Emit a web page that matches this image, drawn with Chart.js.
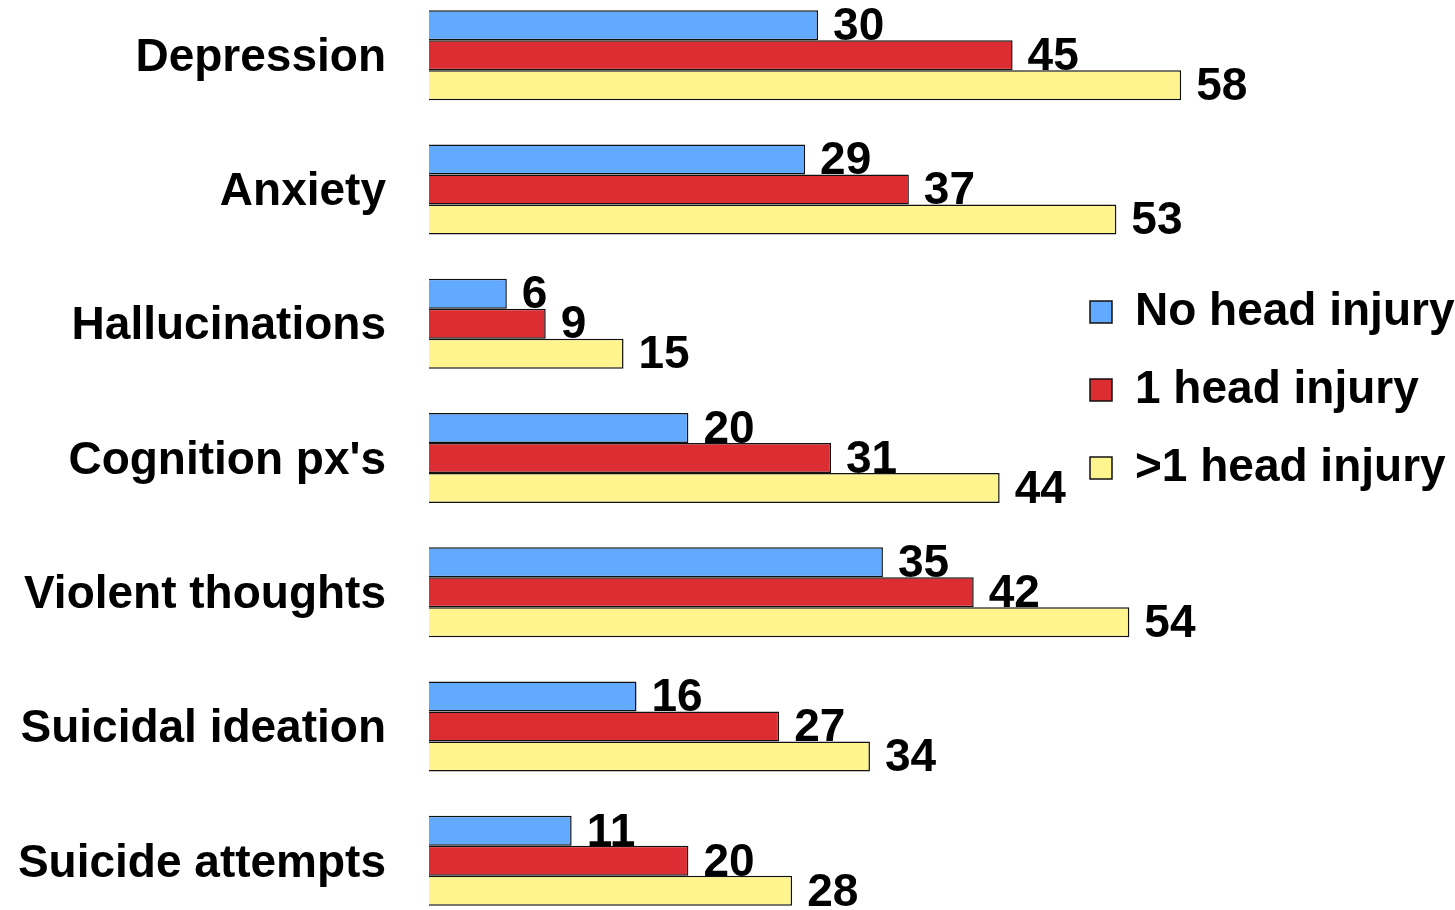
<!DOCTYPE html>
<html>
<head>
<meta charset="utf-8">
<script src="https://cdn.jsdelivr.net/npm/chart.js@4.4.1/dist/chart.umd.min.js"></script>
<style>
  html, body { margin:0; padding:0; background:#fff; overflow:hidden; }
  #wrapp { position:absolute; left:0; top:-12px; width:1455px; height:940px; }
</style>
</head>
<body>
<div id="wrapp"><canvas id="myChart" width="1455" height="940"></canvas></div>
<script>
var categories=["Depression","Anxiety","Hallucinations","Cognition px's","Violent thoughts","Suicidal ideation","Suicide attempts"]
var seriesNames=["No head injury","1 head injury",">1 head injury"]
var noInjury=[30,29,6,20,35,16,11]
var oneInjury=[45,37,9,31,42,27,20]
var moreInjury=[58,53,15,44,54,34,28]

var font="'Liberation Sans', Arial, sans-serif"

// value labels at the end of each bar
var valueLabels={
    id:"valueLabels",
    afterDatasetsDraw:function(chart){
        var ctx=chart.ctx
        ctx.save()
        ctx.font="bold 46px "+font
        ctx.fillStyle="#000"
        ctx.textAlign="left"
        ctx.textBaseline="middle"
        chart.data.datasets.forEach(function(ds,i){
            chart.getDatasetMeta(i).data.forEach(function(bar,j){
                ctx.fillText(ds.data[j],bar.x+15,bar.y+2)
            })
        })
        ctx.restore()
    }
}

var myChart=document.getElementById("myChart").getContext('2d')

var chart=new Chart(myChart,{
    type:'bar',
    data:{
        labels:categories,
        datasets:[
            {
                label:seriesNames[0],
                data:noInjury,
                backgroundColor:"#62aaff",
                borderColor:"#111",
                borderWidth:1.5,
                borderSkipped:'start'
            },
            {
                label:seriesNames[1],
                data:oneInjury,
                backgroundColor:"#dc2d33",
                borderColor:"#111",
                borderWidth:1.5,
                borderSkipped:'start'
            },
            {
                label:seriesNames[2],
                data:moreInjury,
                backgroundColor:"#fff48e",
                borderColor:"#111",
                borderWidth:1.5,
                borderSkipped:'start'
            }
        ]
    },
    options:{
        indexAxis:'y',
        responsive:false,
        animation:false,
        clip:false,
        layout:{padding:0},
        datasets:{bar:{categoryPercentage:0.67,barPercentage:1}},
        scales:{
            x:{display:false,min:0,max:48.5},
            y:{
                grid:{display:false},
                border:{display:false},
                ticks:{color:"#000",padding:35,labelOffset:3,font:{family:font,size:46,weight:'bold'}},
                afterFit:function(scale){
                    scale.width=429
                    scale.paddingTop=0
                    scale.paddingBottom=0
                }
            }
        },
        plugins:{
            tooltip:{enabled:false},
            legend:{
                position:'right',
                align:'start',
                maxWidth:397,
                title:{display:true,text:'',font:{size:10},padding:{top:257,bottom:0}},
                labels:{
                    color:"#000",
                    boxWidth:22,
                    boxHeight:22,
                    padding:32,
                    font:{family:font,size:46,weight:'bold'}
                }
            }
        }
    },
    plugins:[valueLabels]
})
</script>
</body>
</html>
